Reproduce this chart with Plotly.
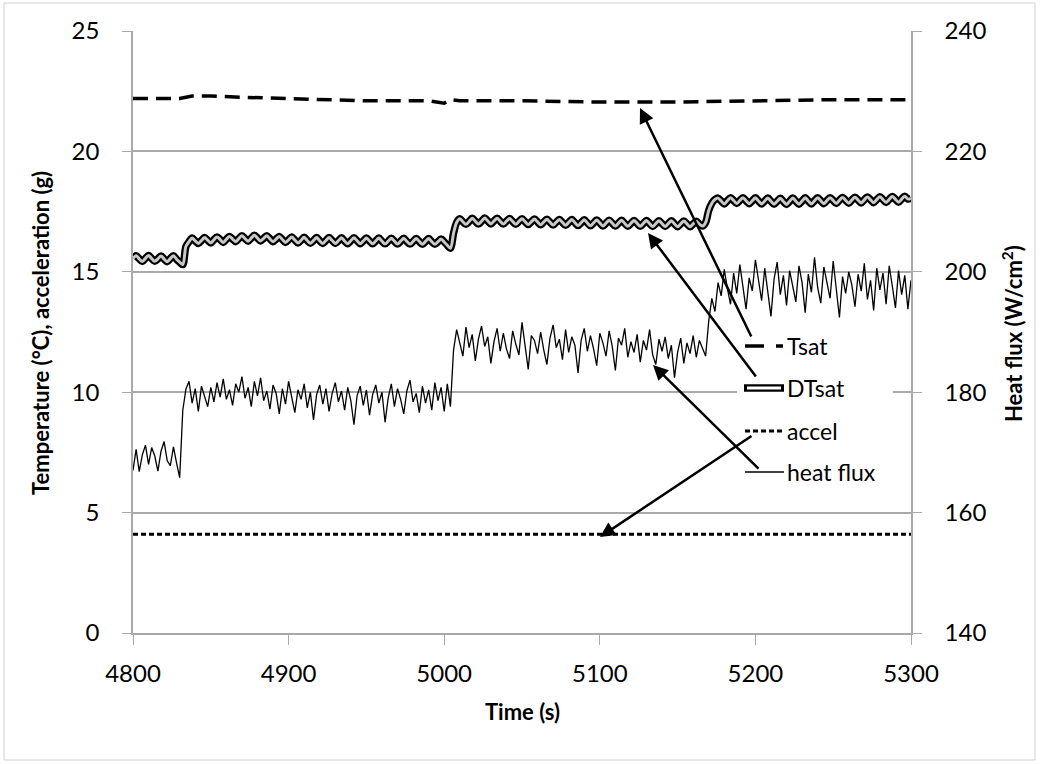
import plotly.graph_objects as go

# ---------------- data ----------------
t_start, t_step = 4800, 2
n_points = 251
time_s = [t_start + t_step * i for i in range(n_points)]

heat_flux = [
    # 4800-4834
    167.0, 170.5, 166.8, 169.6, 171.2, 168.0, 170.8, 169.4, 166.9, 170.2,
    171.8, 168.6, 167.8, 170.9, 168.2, 165.8, 177.0, 180.5,
    # 4836-5004
    181.8, 178.2, 180.6, 176.8, 181.0, 179.4, 177.6, 180.8, 178.4, 181.6,
    179.2, 182.2, 178.8, 180.4, 177.8, 181.4, 180.0, 182.6, 179.0, 180.8,
    177.6, 181.8, 179.4, 182.4, 178.6, 180.2, 177.2, 181.2, 179.8, 176.4,
    180.6, 178.0, 181.8, 179.2, 176.6, 180.4, 178.8, 181.4, 177.4, 180.0,
    175.4, 179.6, 181.2, 178.0, 180.6, 176.8, 179.8, 181.6, 178.4, 180.2,
    177.0, 180.8, 178.6, 174.6, 179.4, 181.0, 177.8, 180.4, 176.2, 179.6,
    181.2, 178.2, 180.0, 175.0, 179.0, 181.4, 177.6, 180.6, 178.8, 176.4,
    180.2, 182.0, 178.4, 179.8, 176.6, 181.0, 178.2, 180.4, 177.0, 181.6,
    178.6, 180.8, 176.8, 181.4, 177.6,
    # 5006-5166
    187.0, 190.4, 188.2, 186.0, 190.8, 187.4, 189.6, 185.2, 188.8, 191.0,
    187.6, 189.2, 184.8, 188.4, 190.6, 186.8, 189.8, 187.2, 185.6, 190.2,
    188.0, 186.2, 191.6, 187.8, 183.8, 189.4, 188.6, 186.4, 190.0, 187.0,
    184.6, 189.0, 191.2, 187.4, 188.8, 185.4, 190.4, 186.6, 189.2, 187.8,
    183.2, 188.6, 190.6, 186.8, 189.4, 187.2, 184.4, 189.8, 188.2, 186.0,
    190.2, 187.6, 183.6, 189.0, 187.8, 190.6, 185.8, 188.4, 186.6, 189.6,
    185.0, 188.6, 187.0, 190.4, 186.2, 184.6, 188.8, 186.8, 189.2, 185.6,
    187.8, 182.4, 186.6, 189.0, 184.8, 188.2, 186.4, 189.4, 185.8, 188.6,
    187.2,
    # 5168-5300
    186.0, 191.8, 195.6, 193.4, 198.2, 196.0, 200.4, 197.2, 194.6, 199.8,
    196.4, 201.2, 197.8, 193.8, 199.0, 196.8, 202.0, 198.4, 195.2, 200.6,
    197.0, 192.6, 198.8, 201.6, 196.2, 199.4, 194.4, 200.2, 197.6, 195.0,
    201.0, 198.2, 193.2, 199.6, 196.6, 202.4, 197.4, 194.8, 200.8, 198.0,
    195.6, 201.8, 197.2, 192.4, 199.2, 196.4, 200.0, 197.8, 194.2, 199.6,
    196.8, 201.4, 195.4, 198.6, 193.6, 200.6, 197.0, 199.8, 194.6, 201.0,
    197.6, 194.0, 200.2, 196.2, 199.4, 193.8, 198.6,
]

dtsat = [
    # 4800-4836
    15.55, 15.67, 15.54, 15.43, 15.56, 15.68, 15.55, 15.44,
    15.54, 15.66, 15.53, 15.42, 15.55, 15.67, 15.52, 15.40,
    15.30, 16.05, 16.25,
    # 4838-5002
    16.40, 16.28, 16.18, 16.30, 16.42, 16.31, 16.20, 16.33,
    16.45, 16.34, 16.22, 16.35, 16.47, 16.36, 16.25, 16.38,
    16.50, 16.38, 16.27, 16.40, 16.52, 16.40, 16.28, 16.39,
    16.50, 16.37, 16.25, 16.36, 16.47, 16.34, 16.22, 16.33,
    16.44, 16.32, 16.20, 16.31, 16.43, 16.30, 16.19, 16.30,
    16.42, 16.29, 16.18, 16.30, 16.42, 16.30, 16.18, 16.29,
    16.41, 16.28, 16.17, 16.29, 16.41, 16.29, 16.17, 16.28,
    16.40, 16.28, 16.16, 16.28, 16.40, 16.27, 16.16, 16.27,
    16.39, 16.27, 16.15, 16.27, 16.39, 16.26, 16.15, 16.26,
    16.38, 16.26, 16.14, 16.26, 16.38, 16.25, 16.14, 16.25,
    16.36, 16.24, 16.10,
    # 5004-5008
    15.98, 16.60, 17.05,
    # 5010-5166
    17.20, 17.08, 16.97, 17.09, 17.22, 17.10, 16.98, 17.10,
    17.23, 17.11, 16.99, 17.11, 17.22, 17.10, 16.98, 17.10,
    17.21, 17.09, 16.97, 17.09, 17.20, 17.08, 16.96, 17.08,
    17.19, 17.07, 16.95, 17.07, 17.18, 17.06, 16.94, 17.06,
    17.17, 17.05, 16.93, 17.05, 17.17, 17.04, 16.92, 17.04,
    17.16, 17.03, 16.91, 17.03, 17.15, 17.03, 16.90, 17.02,
    17.14, 17.02, 16.90, 17.02, 17.14, 17.01, 16.89, 17.01,
    17.13, 17.01, 16.89, 17.01, 17.13, 17.00, 16.88, 17.00,
    17.12, 17.00, 16.88, 17.00, 17.12, 16.99, 16.87, 16.99,
    17.11, 16.99, 16.87, 16.99,
    17.10, 16.98, 16.90,
    # 5168-5174
    17.05, 17.55, 17.85, 18.00,
    # 5176-5300
    18.06, 17.94, 17.82, 17.95, 18.08, 17.96, 17.84, 17.96,
    18.08, 17.95, 17.83, 17.95, 18.07, 17.94, 17.82, 17.94,
    18.06, 17.93, 17.81, 17.93, 18.05, 17.92, 17.80, 17.93,
    18.06, 17.93, 17.81, 17.94, 18.07, 17.94, 17.82, 17.95,
    18.08, 17.95, 17.83, 17.96, 18.08, 17.96, 17.84, 17.97,
    18.09, 17.97, 17.85, 17.98, 18.10, 17.98, 17.86, 17.99,
    18.11, 17.99, 17.87, 18.00, 18.12, 18.00, 17.88, 18.01,
    18.13, 18.01, 17.89, 18.02,
    18.14, 18.02, 18.05,
]

tsat_time = [4800, 4820, 4830, 4838, 4850, 4870, 4900, 4950, 4990, 5000,
             5004, 5010, 5050, 5100, 5150, 5200, 5250, 5300]
tsat = [22.2, 22.2, 22.2, 22.3, 22.3, 22.25, 22.2, 22.1, 22.1, 22.0,
        22.15, 22.1, 22.1, 22.05, 22.05, 22.1, 22.15, 22.15]

accel_time = [4800, 4900, 5000, 5100, 5200, 5300]
accel = [4.1, 4.1, 4.1, 4.1, 4.1, 4.1]

x_ticks = [4800, 4900, 5000, 5100, 5200, 5300]
y_ticks = [0, 5, 10, 15, 20, 25]
y2_ticks = [140, 160, 180, 200, 220, 240]

legend_names = ["Tsat", "DTsat", "accel", "heat flux"]

# ---------------- layout helpers ----------------
W, H = 1040, 764
PL, PR, PT, PB = 133, 911, 31, 633
X0, X1, Y0, Y1 = 4800, 5300, 0, 25

def dx(px):
    return X0 + (px - PL) / (PR - PL) * (X1 - X0)

def dy(py):
    return Y0 + (PB - py) / (PB - PT) * (Y1 - Y0)

def paper_x(px):
    return (px - PL) / (PR - PL)

def paper_y(py):
    return (PB - py) / (PB - PT)

FONT = "Lato, Calibri, Carlito, sans-serif"
GRID = "#a9a9a9"

fig = go.Figure()

fig.add_trace(go.Scatter(x=tsat_time, y=tsat, mode="lines", name=legend_names[0],
                         line=dict(color="black", width=3.5, dash="15px,8px")))
fig.add_trace(go.Scatter(x=time_s[:len(dtsat)], y=dtsat, mode="lines", name=legend_names[1],
                         line=dict(color="black", width=7.5, shape="spline", smoothing=0.9)))
fig.add_trace(go.Scatter(x=time_s[:len(dtsat)], y=dtsat, mode="lines", name=legend_names[1],
                         line=dict(color="#c8c8c8", width=3, shape="spline", smoothing=0.9)))
fig.add_trace(go.Scatter(x=accel_time, y=accel, mode="lines", name=legend_names[2],
                         line=dict(color="black", width=2.8, dash="5px,3px")))
fig.add_trace(go.Scatter(x=time_s[:len(heat_flux)], y=heat_flux, mode="lines", name=legend_names[3],
                         yaxis="y2", line=dict(color="black", width=1.3)))

shapes = []
# figure border
shapes.append(dict(type="rect", xref="paper", yref="paper",
                   x0=paper_x(4), x1=paper_x(1035), y0=paper_y(760), y1=paper_y(3),
                   line=dict(color="#d0d0d0", width=1), fillcolor="rgba(0,0,0,0)", layer="below"))
# legend background
shapes.append(dict(type="rect", xref="paper", yref="paper",
                   x0=paper_x(737), x1=paper_x(893), y0=paper_y(492), y1=paper_y(326),
                   line=dict(width=0), fillcolor="white", layer="above"))
# legend swatches
LY = [346, 388, 431, 472]
shapes.append(dict(type="line", xref="paper", yref="paper", x0=paper_x(745), x1=paper_x(764),
                   y0=paper_y(LY[0]), y1=paper_y(LY[0]), line=dict(color="black", width=3.5), layer="above"))
shapes.append(dict(type="line", xref="paper", yref="paper", x0=paper_x(776), x1=paper_x(783),
                   y0=paper_y(LY[0]), y1=paper_y(LY[0]), line=dict(color="black", width=3.5), layer="above"))
shapes.append(dict(type="line", xref="paper", yref="paper", x0=paper_x(744), x1=paper_x(784),
                   y0=paper_y(LY[1]), y1=paper_y(LY[1]), line=dict(color="black", width=7.5), layer="above"))
shapes.append(dict(type="line", xref="paper", yref="paper", x0=paper_x(747), x1=paper_x(781),
                   y0=paper_y(LY[1]), y1=paper_y(LY[1]), line=dict(color="white", width=3), layer="above"))
shapes.append(dict(type="line", xref="paper", yref="paper", x0=paper_x(745), x1=paper_x(784),
                   y0=paper_y(LY[2]), y1=paper_y(LY[2]), line=dict(color="black", width=2.8, dash="5px,3px"),
                   layer="above"))
shapes.append(dict(type="line", xref="paper", yref="paper", x0=paper_x(745), x1=paper_x(784),
                   y0=paper_y(LY[3]), y1=paper_y(LY[3]), line=dict(color="black", width=1.3), layer="above"))

annotations = []
for name, ly in zip(legend_names, LY):
    annotations.append(dict(xref="paper", yref="paper", x=paper_x(785), y=paper_y(ly),
                            text=name, showarrow=False, xanchor="left", yanchor="middle",
                            font=dict(family=FONT, size=23, color="black")))

# arrows (head px, tail px)
arrows = [((640, 108), (752, 338)),
          ((648, 233), (757, 378)),
          ((600, 537), (753, 435)),
          ((653, 365), (760, 470))]
for (hx, hy), (tx, ty) in arrows:
    annotations.append(dict(x=dx(hx), y=dy(hy), ax=dx(tx), ay=dy(ty), xref="x", yref="y",
                            axref="x", ayref="y", text="", showarrow=True, arrowhead=2,
                            arrowsize=1.2, arrowwidth=2.5, arrowcolor="black", standoff=0))

# axis titles
annotations.append(dict(xref="paper", yref="paper", x=paper_x(40), y=paper_y(333),
                        text="<b>Temperature (°C), acceleration (g)</b>", textangle=-90,
                        showarrow=False, xanchor="center", yanchor="middle",
                        font=dict(family=FONT, size=22, color="black")))
annotations.append(dict(xref="paper", yref="paper", x=paper_x(1012), y=paper_y(333),
                        text="<b>Heat flux (W/cm<sup>2</sup>)</b>", textangle=-90,
                        showarrow=False, xanchor="center", yanchor="middle",
                        font=dict(family=FONT, size=22, color="black")))
annotations.append(dict(xref="paper", yref="paper", x=paper_x(522), y=paper_y(711),
                        text="<b>Time (s)</b>", showarrow=False, xanchor="center", yanchor="middle",
                        font=dict(family=FONT, size=22, color="black")))

fig.update_layout(
    width=W, height=H, autosize=False,
    margin=dict(l=PL, r=W - PR, t=PT, b=H - PB, pad=0),
    paper_bgcolor="white", plot_bgcolor="white",
    showlegend=False,
    font=dict(family=FONT, size=22, color="black"),
    xaxis=dict(range=[X0, X1], tickvals=x_ticks, ticks="outside", ticklen=10, tickwidth=1.2,
               tickcolor=GRID, showline=True, linecolor=GRID, linewidth=1.5, showgrid=False,
               zeroline=False, ticklabelstandoff=8, tickfont=dict(family=FONT, size=24)),
    yaxis=dict(range=[Y0, Y1], tickvals=y_ticks, ticks="outside", ticklen=9, tickwidth=1.2,
               tickcolor=GRID, showline=True, linecolor=GRID, linewidth=1.5, showgrid=True,
               gridcolor=GRID, gridwidth=1.5, zeroline=False, ticklabelstandoff=18,
               tickfont=dict(family=FONT, size=24)),
    yaxis2=dict(range=[140, 240], tickvals=y2_ticks, overlaying="y", side="right", ticks="outside",
                ticklen=9, tickwidth=1.2, tickcolor=GRID, showline=True, linecolor=GRID, linewidth=1.5,
                showgrid=False, zeroline=False, ticklabelstandoff=18,
                tickfont=dict(family=FONT, size=24)),
    shapes=shapes,
    annotations=annotations,
)

fig.write_html("out.html")
